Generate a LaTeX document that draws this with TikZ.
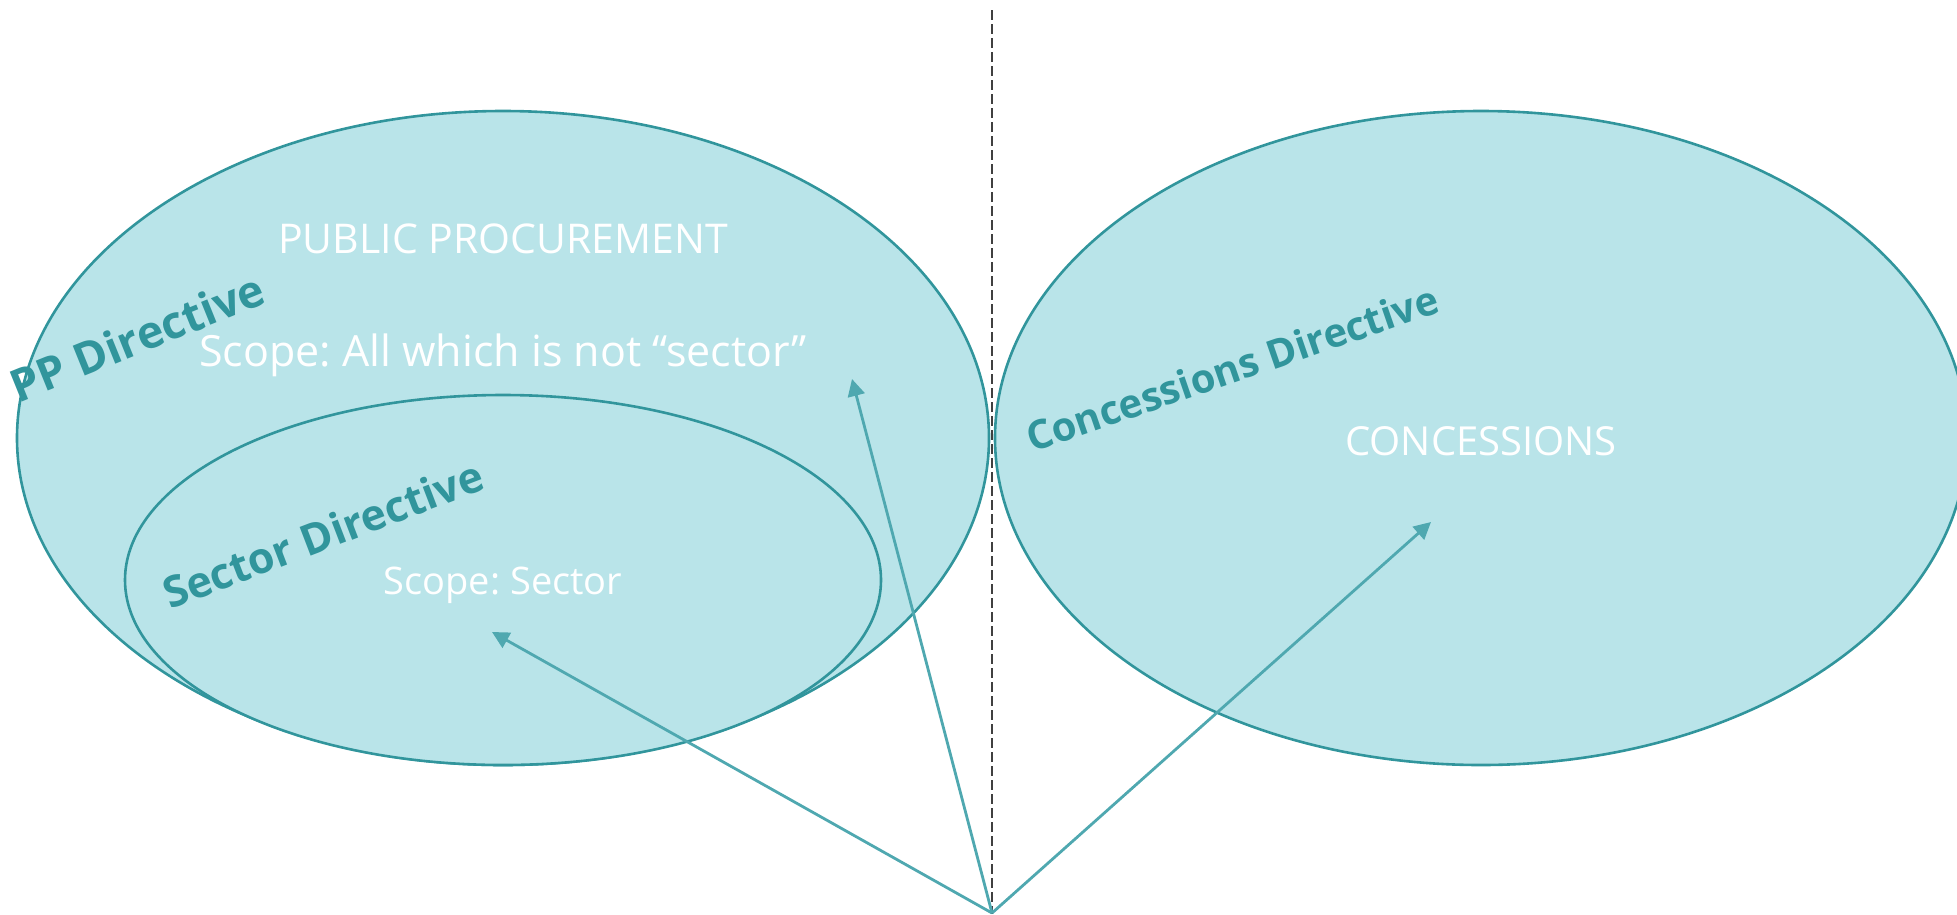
\documentclass[tikz,border=0pt]{standalone}
\usepackage{fontspec}
\setmainfont{Open Sans}
\usetikzlibrary{arrows.meta,shapes.geometric}
\definecolor{fillc}{HTML}{B9E4E9}
\definecolor{linec}{HTML}{31959C}
\definecolor{arrc}{HTML}{4FA8B0}
\definecolor{dashc}{HTML}{404040}
\tikzset{
  blob/.style={ellipse, draw=linec, fill=fillc, line width=2.6pt, inner sep=0pt},
  maintext/.style={text=white, inner sep=0pt},
  dirlabel/.style={text=linec, inner sep=0pt},
  pointer/.style={draw=arrc, line width=2.8pt, -{Triangle[length=17pt,width=17pt]}},
  divider/.style={draw=dashc, line width=1.5pt, dash pattern=on 10pt off 4pt}
}
\newcommand{\fsz}[1]{\fontsize{#1}{#1}\selectfont}
\frenchspacing
\begin{document}
\begin{tikzpicture}[x=1pt,y=-1pt]
\useasboundingbox (0,0) rectangle (1957,914);
% ellipses
\node[blob, minimum width=972pt, minimum height=654pt] (pp) at (503,438) {};
\node[blob, minimum width=756pt, minimum height=370pt] (sec) at (503,580) {};
\node[blob, minimum width=972pt, minimum height=654pt] (con) at (1481,438) {};
% divider
\coordinate (dtop) at (992,10);
\coordinate (dbot) at (992,914);
\draw[divider] (dtop) -- (dbot);
% arrows
\coordinate (o) at (992,913);
\coordinate (t1) at (492,632);
\coordinate (t2) at (852,379);
\coordinate (t3) at (1431,522);
\draw[pointer] (o) -- (t1);
\draw[pointer] (o) -- (t2);
\draw[pointer] (o) -- (t3);
% texts
\node[maintext, font=\fsz{41}] (ppt) at (503,239) {PUBLIC PROCUREMENT};
\node[maintext, font=\fsz{43}] (pps) at (503,355) {Scope: All which is not “sector”};
\node[maintext, font=\fsz{38}] (secs) at (503,585) {Scope: Sector};
\node[maintext, font=\fsz{40}] (cont) at (1481,441) {CONCESSIONS};
\node[dirlabel, font=\fsz{45}\bfseries, rotate=22] (ppd) at (137,337) {PP Directive};
\node[dirlabel, font=\fsz{43}\bfseries, rotate=21] (secd) at (323,534) {Sector Directive};
\node[dirlabel, font=\fsz{40}\bfseries, rotate=19] (cond) at (1232,368) {Concessions Directive};
\end{tikzpicture}
\end{document}
